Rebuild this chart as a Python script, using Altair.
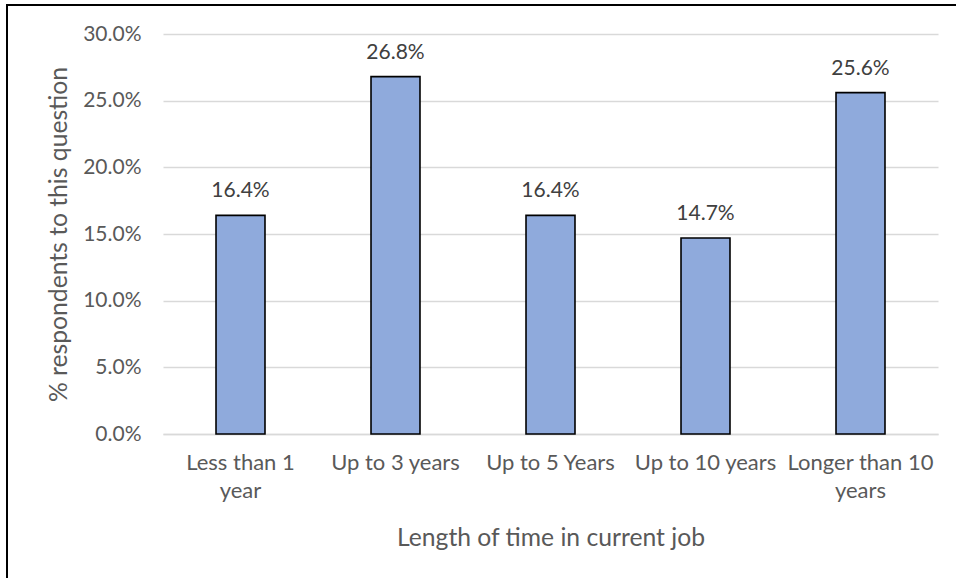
import altair as alt
import pandas as pd

# Survey results: how long respondents have been in their current job
categories = ["Less than 1 year", "Up to 3 years", "Up to 5 Years",
              "Up to 10 years", "Longer than 10 years"]
shares = [0.164, 0.268, 0.164, 0.147, 0.256]

df = pd.DataFrame({"category": categories, "share": shares})

FONT = "Lato"
W, H = 775, 400

x_enc = alt.X(
    "category:N",
    sort=categories,
    scale=alt.Scale(paddingInner=0.684, paddingOuter=0.342),
    axis=alt.Axis(
        title="Length of time in current job",
        titleFontSize=24.7, titleFontWeight="normal", titleColor="#595959",
        titleX=W / 2, titleY=104, titleBaseline="middle", titleAlign="center",
        labelAngle=0, labelFontSize=22, labelColor="#595959",
        labelPadding=18, labelLineHeight=28,
        labelExpr=("datum.label == 'Less than 1 year' ? ['Less than 1', 'year'] : "
                   "datum.label == 'Longer than 10 years' ? ['Longer than 10', 'years'] : "
                   "datum.label"),
        domainColor="#d9d9d9", domainWidth=1.3, ticks=False,
    ),
)

y_enc = alt.Y(
    "share:Q",
    scale=alt.Scale(domain=[0, 0.3], nice=False),
    axis=alt.Axis(
        title="% respondents to this question",
        titleFontSize=24.7, titleFontWeight="normal", titleColor="#595959",
        titleX=-104, titleY=200, titleAngle=-90,
        titleAlign="center", titleBaseline="middle",
        values=[0, 0.05, 0.10, 0.15, 0.20, 0.25, 0.30],
        format=".1%", labelFontSize=21, labelColor="#595959", labelPadding=22,
        grid=True, gridColor="#d9d9d9", gridWidth=1.3,
        domain=False, ticks=False,
    ),
)

bars = alt.Chart(df).mark_bar(
    color="#8faadc", stroke="black", strokeWidth=1.6
).encode(x=x_enc, y=y_enc)

labels = alt.Chart(df).mark_text(
    font=FONT, fontSize=21, color="#404040", baseline="alphabetic", dy=-18
).encode(
    x=alt.X("category:N", sort=categories),
    y=alt.Y("share:Q"),
    text=alt.Text("share:Q", format=".1%"),
)

# Outer frame around the whole chart
frame = alt.Chart(pd.DataFrame({"k": [0]})).mark_rect(
    fill=None, stroke="black", strokeWidth=2
).encode(
    x=alt.value(-156), x2=alt.value(820),
    y=alt.value(-29), y2=alt.value(580),
)

chart = alt.layer(bars, labels, frame).properties(
    width=W, height=H,
    autosize=alt.AutoSizeParams(type="none"),
    padding={"left": 163, "top": 34, "right": 18, "bottom": 144},
    background="white",
).configure(font=FONT).configure_view(stroke=None)

chart.save("out.html", embed_options={"renderer": "svg", "actions": False})
